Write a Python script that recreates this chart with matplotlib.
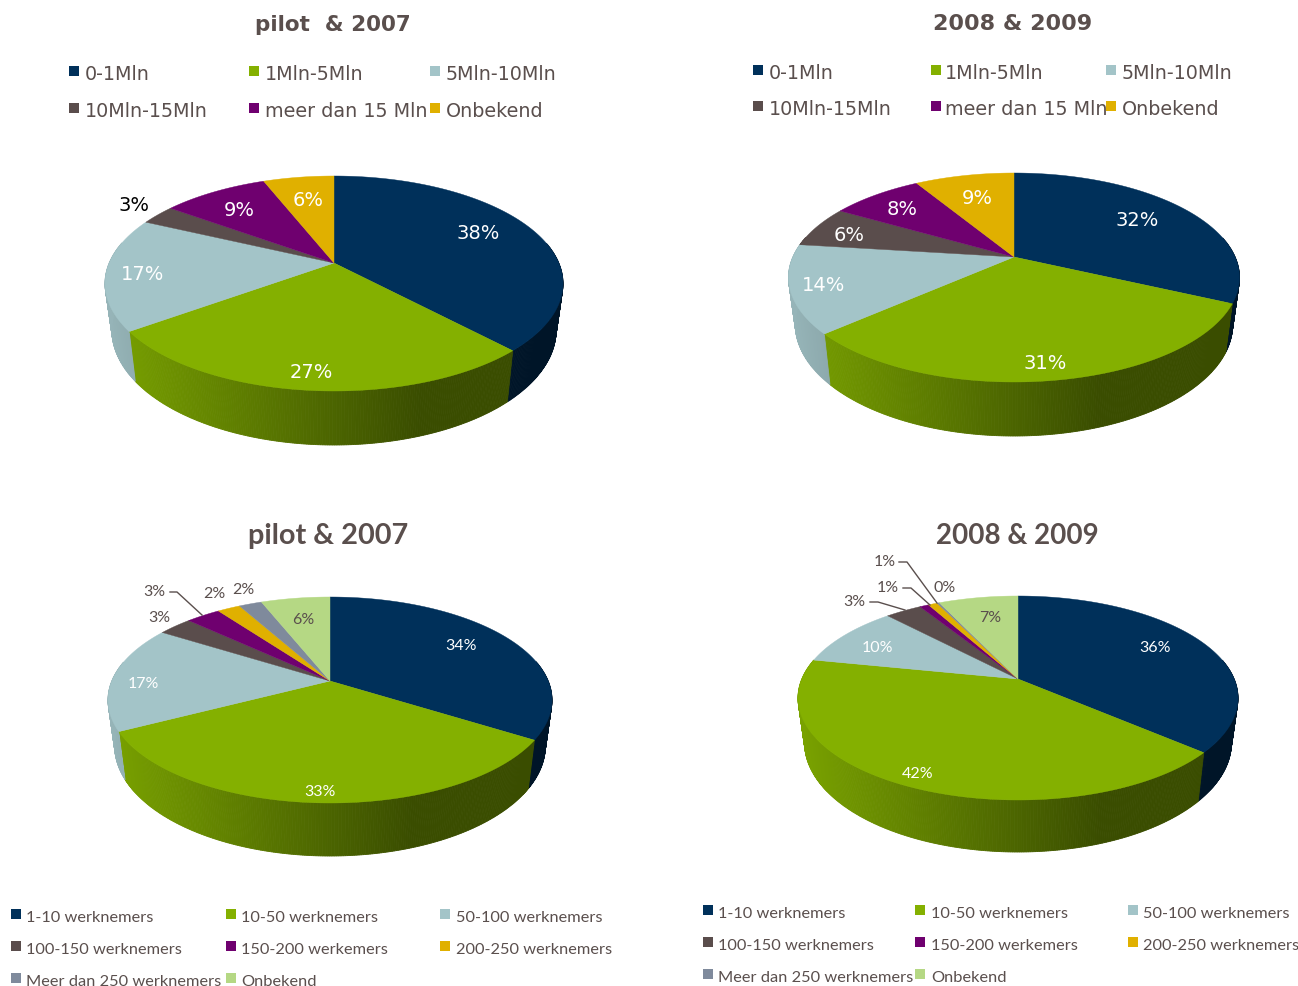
import numpy as np
import matplotlib
matplotlib.use("Agg")
import matplotlib.pyplot as plt
from matplotlib.colors import to_rgb
from matplotlib.patches import Polygon, Rectangle

# omzet charts (top row)
omzet_cats = ["0-1Mln", "1Mln-5Mln", "5Mln-10Mln", "10Mln-15Mln", "meer dan 15 Mln", "Onbekend"]
omzet_2007 = [38, 27, 17, 3, 9, 6]
omzet_2009 = [32, 31.4, 13.6, 6.4, 8, 8.6]

# werknemers charts (bottom row)
werk_cats = ["1-10 werknemers", "10-50 werknemers", "50-100 werknemers", "100-150 werknemers",
             "150-200 werkemers", "200-250 werknemers", "Meer dan 250 werknemers", "Onbekend"]
werk_2007 = [34, 33.3, 16.7, 3, 3, 2, 2, 6]
werk_2009 = [36.4, 41.8, 9.8, 3.2, 0.8, 0.8, 0.2, 7]

top_colors = ["#00305a", "#84b000", "#a3c4c8", "#5a4d4c", "#6f006f", "#e0b000"]
bottom_colors = ["#00305a", "#84b000", "#a3c4c8", "#5a4d4c", "#6f006f", "#e0b000", "#7f8a9c", "#b5d884"]
TXT = "#5a4f4d"

fig = plt.figure(figsize=(12.98, 9.87), dpi=100)
ax = fig.add_axes([0, 0, 1, 1])
ax.set_xlim(0, 1298)
ax.set_ylim(987, 0)
ax.axis("off")


def make_rim(cx, ay, top, bottom, left, right):
    # circle seen in perspective, ay is where the centre of the circle lands
    a = bottom - ay
    b = ay - top
    k = (b - a) / (a + b)
    ry = a * (1 + k)
    rx = (right - left) / 2 * np.sqrt(1 - k ** 2)

    def rim(t):
        u = np.sin(t)
        v = -np.cos(t)
        d = 1 + k * v
        return cx + rx * u / d, ay + ry * v / d
    return rim


def draw_pie(values, colors, cx, ay, top, bottom, left, right, wall_bottom):
    rim = make_rim(cx, ay, top, bottom, left, right)
    depth = wall_bottom - bottom
    edges = np.cumsum([0] + list(values)) / sum(values) * 2 * np.pi

    # side wall first, the top covers what sticks out at the back
    for i, c in enumerate(colors):
        base = np.array(to_rgb(c))
        n = max(2, int((edges[i + 1] - edges[i]) / np.radians(0.5)))
        ts = np.linspace(edges[i], edges[i + 1], n + 1)
        for t0, t1 in zip(ts[:-1], ts[1:]):
            if np.cos((t0 + t1) / 2) > 0.2:
                continue
            x0, y0 = rim(t0)
            x1, y1 = rim(t1)
            d0 = depth - (bottom - y0) * 0.07
            d1 = depth - (bottom - y1) * 0.07
            shade = max(0.44, 0.92 - 0.7 * ((x0 + x1) / 2 - left) / (right - left))
            col = tuple(base * shade)
            pts = [(x0, y0), (x1, y1),
                   (cx + (x1 - cx) * 0.97, y1 + d1), (cx + (x0 - cx) * 0.97, y0 + d0)]
            ax.add_patch(Polygon(pts, closed=True, fc=col, ec=col, lw=0.6, zorder=2))

    # top face
    for i, c in enumerate(colors):
        ts = np.linspace(edges[i], edges[i + 1], 200)
        xs, ys = rim(ts)
        pts = [(cx, ay)] + list(zip(xs, ys))
        ax.add_patch(Polygon(pts, closed=True, fc=c, ec=c, lw=0.3, zorder=3))


def draw_labels(values, xs, ys, colors, size, family):
    for v, x, y, c in zip(values, xs, ys, colors):
        ax.text(x, y + 1.5, "%d%%" % round(v), color=c, fontsize=size, family=family,
                ha="center", va="center", zorder=5)


def draw_legend(cats, colors, box_x, text_x, row_y, size, family, box):
    for i, (name, c) in enumerate(zip(cats, colors)):
        col = i % 3
        y = row_y[i // 3]
        ax.add_patch(Rectangle((box_x[col], y - box / 2 - 1), box, box, fc=c, ec="none", zorder=4))
        ax.text(text_x[col], y + 1.5, name, color=TXT, fontsize=size, family=family,
                ha="left", va="center", zorder=5)


draw_pie(omzet_2007, top_colors, 334, 264, 177, 392, 105, 563, 446)
draw_pie(omzet_2009, top_colors, 1014, 258, 174, 383, 789, 1240, 437)
draw_pie(werk_2007, bottom_colors, 330, 682, 598, 804, 107, 551, 857)
draw_pie(werk_2009, bottom_colors, 1018, 680, 597, 801, 798, 1238, 853)

W = "white"
draw_labels(omzet_2007, [478, 311, 143, 134, 239, 308], [232, 371, 273, 204, 209, 199],
            [W, W, W, "black", W, W], 14, "DejaVu Sans")
draw_labels(omzet_2009, [1137, 1045, 824, 849, 902, 977], [219, 362, 284, 234, 208, 197],
            [W, W, W, W, W, W], 14, "DejaVu Sans")
draw_labels(werk_2007, [461, 320, 143, 159, 154, 214, 243, 303], [644, 790, 682, 616, 590, 592, 588, 619],
            [W, W, W, TXT, TXT, TXT, TXT, TXT], 11.5, "Lato")
draw_labels(werk_2009, [1155, 918, 877, 854, 888, 885, 945, 990], [646, 773, 646, 600, 586, 560, 586, 617],
            [W, W, W, TXT, TXT, TXT, TXT, TXT], 11.5, "Lato")

# leader lines
leaders = [
    ([170, 177, 202], [593, 593, 616]),
    ([899, 907, 937], [563, 563, 604]),
    ([903, 911, 930], [589, 589, 606]),
    ([870, 878, 905], [603, 603, 611]),
]
for lx, ly in leaders:
    ax.plot(lx, ly, color=TXT, lw=1.0, zorder=4)

draw_legend(omzet_cats, top_colors, [69, 249, 430], [85, 265, 446], [73, 110], 13.8, "DejaVu Sans", 10)
draw_legend(omzet_cats, top_colors, [753, 931, 1106], [769, 945, 1122], [72, 108], 13.8, "DejaVu Sans", 10)
draw_legend(werk_cats, bottom_colors, [11, 226, 440], [26, 241, 456], [916, 948, 980], 11.8, "Lato", 10)
draw_legend(werk_cats, bottom_colors, [703, 915, 1128], [718, 931, 1143], [912, 944, 976], 11.8, "Lato", 10)

ax.text(333, 25, "pilot  & 2007", color=TXT, fontsize=15.5, family="DejaVu Sans", weight="bold", ha="center", va="center")
ax.text(1013, 24, "2008 & 2009", color=TXT, fontsize=16, family="DejaVu Sans", weight="bold", ha="center", va="center")
ax.text(328, 536, "pilot & 2007", color=TXT, fontsize=20.8, family="Lato", weight="bold", ha="center", va="center")
ax.text(1017, 536, "2008 & 2009", color=TXT, fontsize=20, family="Lato", weight="bold", ha="center", va="center")

fig.savefig("out.png", dpi=100)
